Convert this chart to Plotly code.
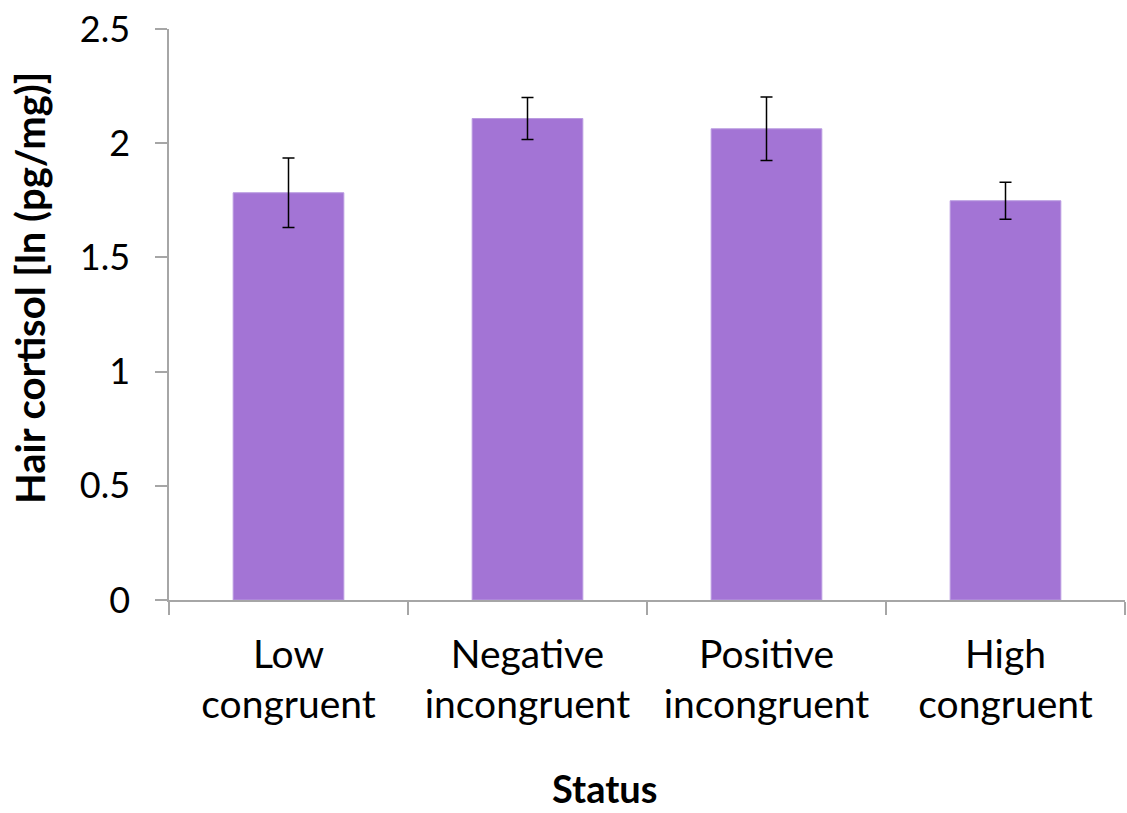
import plotly.graph_objects as go

categories = ["Low<br>congruent", "Negative<br>incongruent", "Positive<br>incongruent", "High<br>congruent"]
means = [1.783, 2.108, 2.063, 1.748]
errors = [0.152, 0.092, 0.139, 0.081]
y_ticks = [0, 0.5, 1, 1.5, 2, 2.5]
y_tick_labels = ["0", "0.5", "1", "1.5", "2", "2.5"]

FONT = "Lato"
AXIS_COLOR = "#A6A6A6"

fig = go.Figure()
fig.add_trace(go.Bar(
    x=categories,
    y=means,
    marker=dict(color="#A374D5", line=dict(color="#B99AE0", width=1)),
    error_y=dict(type="data", array=errors, visible=True, color="black",
                 thickness=1.5, width=6),
    showlegend=False,
))

W, H = 1127, 813
L, R, T, B = 169, 2, 29, 213

fig.update_layout(
    width=W, height=H,
    margin=dict(l=L, r=R, t=T, b=B),
    paper_bgcolor="white", plot_bgcolor="white",
    bargap=0.537,
    font=dict(family=FONT, size=36, color="black"),
    xaxis=dict(
        showline=True, linecolor=AXIS_COLOR, linewidth=1.5,
        ticks="outside", tickson="boundaries", ticklen=13, tickcolor=AXIS_COLOR, tickwidth=1.5,
        tickfont=dict(family=FONT, size=39, color="black"),
        ticklabelstandoff=19,
        showgrid=False, zeroline=False,
    ),
    yaxis=dict(
        range=[0, 2.5], tickvals=y_ticks, ticktext=y_tick_labels,
        showline=True, linecolor=AXIS_COLOR, linewidth=1.5,
        ticks="outside", ticklen=12, tickcolor=AXIS_COLOR, tickwidth=1.5,
        tickfont=dict(family=FONT, size=36, color="black"),
        ticklabelstandoff=18,
        showgrid=False, zeroline=False,
    ),
)

pw = W - L - R
ph = H - T - B


def px_to_paper(px, py):
    return (px - L) / pw, (H - B - py) / ph


ax, ay = px_to_paper(30, 288)
sx, sy = px_to_paper(604, 788)
fig.add_annotation(text="<b>Hair cortisol [ln (pg/mg)]</b>", textangle=-90,
                   x=ax, y=ay, xref="paper", yref="paper", showarrow=False,
                   xanchor="center", yanchor="middle",
                   font=dict(family=FONT, size=40, color="black"))
fig.add_annotation(text="<b>Status</b>",
                   x=sx, y=sy, xref="paper", yref="paper", showarrow=False,
                   xanchor="center", yanchor="middle",
                   font=dict(family=FONT, size=38, color="black"))

fig.write_html("out.html", config={"displayModeBar": False},
               post_script="document.body.style.margin='0';document.body.style.overflow='hidden';")
